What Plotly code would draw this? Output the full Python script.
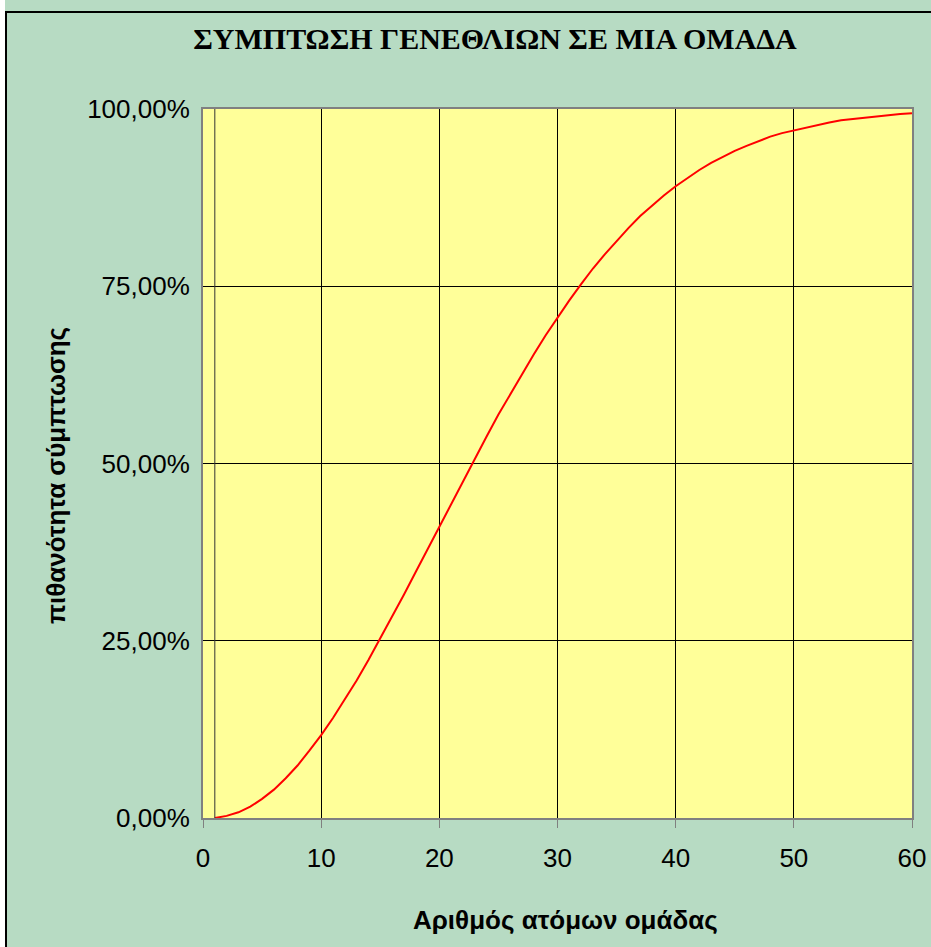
import plotly.graph_objects as go

# Group size (number of people)
group_size = list(range(1, 61))

# Probability (%) that at least two people in the group share a birthday
shared_pct = [
    0.0, 0.3, 0.8, 1.6, 2.7, 4.0, 5.6, 7.4, 9.5, 11.7,
    14.1, 16.7, 19.4, 22.3, 25.3, 28.4, 31.5, 34.7, 37.9, 41.1,
    44.4, 47.6, 50.7, 53.8, 56.9, 59.8, 62.7, 65.4, 68.1, 70.6,
    73.0, 75.3, 77.5, 79.5, 81.4, 83.2, 84.9, 86.4, 87.8, 89.1,
    90.3, 91.4, 92.4, 93.3, 94.1, 94.8, 95.5, 96.1, 96.6, 97.0,
    97.4, 97.8, 98.1, 98.4, 98.6, 98.8, 99.0, 99.2, 99.3, 99.4,
]

x_ticks = [0, 10, 20, 30, 40, 50, 60]
y_ticks = [0.0, 0.25, 0.5, 0.75, 1.0]

title_text = "ΣΥΜΠΤΩΣΗ ΓΕΝΕΘΛΙΩΝ ΣΕ ΜΙΑ ΟΜΑΔΑ"
x_title = "Αριθμός ατόμων ομάδας"
y_title = "πιθανότητα σύμπτωσης"

W, H = 931, 947
ML, MR, MT, MB = 203, 19, 109, 129
PW, PH = W - ML - MR, H - MT - MB


def px_x(px):
    return (px - ML) / PW


def px_y(py):
    return (H - MB - py) / PH


GREEN = "#b7dbc3"
YELLOW = "#ffff99"
GREY = "#808080"

fig = go.Figure()
fig.add_trace(go.Scatter(
    x=group_size,
    y=[v / 100 for v in shared_pct],
    mode="lines",
    line=dict(color="#ff0000", width=2),
    showlegend=False,
    hoverinfo="skip",
))

# vertical reference line at a group of one person
fig.add_vline(x=1, line=dict(color="#333333", width=1))

shapes = [
    # white margin strips around the framed chart area
    dict(type="rect", xref="paper", yref="paper",
         x0=px_x(0), x1=px_x(W), y0=px_y(11), y1=px_y(0),
         fillcolor="white", line=dict(width=0), layer="below"),
    dict(type="rect", xref="paper", yref="paper",
         x0=px_x(0), x1=px_x(5), y0=px_y(H), y1=px_y(0),
         fillcolor="white", line=dict(width=0), layer="below"),
    # black frame edges
    dict(type="line", xref="paper", yref="paper",
         x0=px_x(5), x1=px_x(W), y0=px_y(12), y1=px_y(12),
         line=dict(color="black", width=2)),
    dict(type="line", xref="paper", yref="paper",
         x0=px_x(6), x1=px_x(6), y0=px_y(11), y1=px_y(H),
         line=dict(color="black", width=2)),
]

fig.update_layout(
    width=W, height=H,
    margin=dict(l=ML, r=MR, t=MT, b=MB, autoexpand=False),
    paper_bgcolor=GREEN,
    plot_bgcolor=YELLOW,
    separators=",.",
    font=dict(family="Liberation Sans, Arial, sans-serif", color="black"),
    title=dict(
        text=f"<b>{title_text}</b>",
        x=495 / W, xref="container",
        y=1 - 38 / H, yref="container",
        xanchor="center", yanchor="middle",
        font=dict(family="Liberation Serif", size=30, color="black"),
    ),
    shapes=shapes,
    annotations=[
        dict(text=f"<b>{x_title}</b>", xref="paper", yref="paper",
             x=px_x(565), y=px_y(920), showarrow=False,
             xanchor="center", yanchor="middle",
             font=dict(size=26, color="black")),
        dict(text=f"<b>{y_title}</b>", xref="paper", yref="paper",
             x=px_x(56), y=px_y(476), showarrow=False, textangle=-90,
             xanchor="center", yanchor="middle",
             font=dict(size=26, color="black")),
    ],
)

fig.update_xaxes(
    range=[0, 60],
    tickvals=x_ticks,
    ticks="outside", ticklen=8, tickcolor=GREY, tickwidth=1,
    ticklabelstandoff=8,
    tickfont=dict(size=26, color="black"),
    showgrid=True, gridcolor="black", gridwidth=1,
    zeroline=False, automargin=False,
    showline=True, linecolor=GREY, linewidth=2, mirror=True,
)
fig.update_yaxes(
    range=[0, 1],
    tickvals=y_ticks,
    tickformat=".2%",
    ticks="",
    ticklabelstandoff=6,
    tickfont=dict(size=26, color="black"),
    showgrid=True, gridcolor="black", gridwidth=1,
    zeroline=False, automargin=False,
    showline=True, linecolor=GREY, linewidth=2, mirror=True,
)

# keep the page exactly the size of the figure (no scrollbars)
page_css = (
    "document.documentElement.style.overflow='hidden';"
    "document.body.style.overflow='hidden';"
    "document.body.style.margin='0';"
)

fig.write_html("out.html", post_script=page_css)
